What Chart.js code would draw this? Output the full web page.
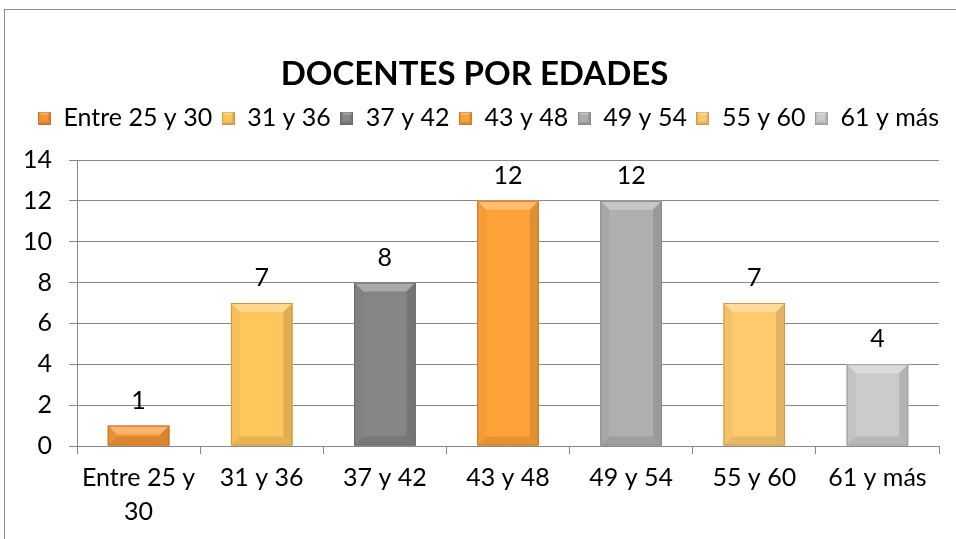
<!DOCTYPE html>
<html>
<head>
<meta charset="utf-8">
<script src="https://cdn.jsdelivr.net/npm/chart.js@4.4.1/dist/chart.umd.min.js"></script>
<style>
    html, body { margin: 0; padding: 0; background: #fff; overflow: hidden; }
    #wrap { position: relative; width: 956px; height: 539px; }
    #frame { position: absolute; left: 4px; top: 9px; width: 1200px; height: 1200px; border: 1px solid #8c8c8c; pointer-events: none; }
</style>
</head>
<body>
<div id="wrap">
    <canvas id="edadesChart" width="956" height="539"></canvas>
    <div id="frame"></div>
</div>
<script>
// Chart data
const categories = ['Entre 25 y 30', '31 y 36', '37 y 42', '43 y 48', '49 y 54', '55 y 60', '61 y más'];
const tickLabels = [['Entre 25 y', '30'], '31 y 36', '37 y 42', '43 y 48', '49 y 54', '55 y 60', '61 y más'];
const docentes = [1, 7, 8, 12, 12, 7, 4];
const barColors = ['#f59536', '#ffc65c', '#858585', '#ffa238', '#afafaf', '#ffca6e', '#cbcbcb'];
const yMin = 0;
const yMax = 14;
const yStep = 2;

const FONT = 'Lato, "Open Sans", sans-serif';

// lighten (amt > 0) or darken (amt < 0) a hex colour
function shade(hex, amt) {
    const n = parseInt(hex.slice(1), 16);
    const f = c => Math.round(amt >= 0 ? c + (255 - c) * amt : c * (1 + amt));
    return `rgb(${f(n >> 16)}, ${f((n >> 8) & 255)}, ${f(n & 255)})`;
}

function poly(ctx, pts, color) {
    ctx.beginPath();
    ctx.moveTo(pts[0][0], pts[0][1]);
    pts.slice(1).forEach(p => ctx.lineTo(p[0], p[1]));
    ctx.closePath();
    ctx.fillStyle = color;
    ctx.fill();
}

function drawBevel(ctx, x0, y0, x1, y1, b, c) {
    poly(ctx, [[x0, y0], [x1, y0], [x1 - b, y0 + b], [x0 + b, y0 + b]], shade(c, 0.3));
    poly(ctx, [[x0, y1], [x1, y1], [x1 - b, y1 - b], [x0 + b, y1 - b]], shade(c, -0.1));
    poly(ctx, [[x0, y0], [x0 + b, y0 + b], [x0 + b, y1 - b], [x0, y1]], shade(c, -0.04));
    poly(ctx, [[x1, y0], [x1 - b, y0 + b], [x1 - b, y1 - b], [x1, y1]], shade(c, -0.12));
    ctx.strokeStyle = shade(c, -0.22);
    ctx.lineWidth = 1;
    ctx.strokeRect(x0 + 0.5, y0 + 0.5, x1 - x0 - 1, y1 - y0 - 1);
}

// small bevelled squares for the legend
const swatches = barColors.map(c => {
    const cv = document.createElement('canvas');
    cv.width = 13;
    cv.height = 13;
    const g = cv.getContext('2d');
    g.fillStyle = c;
    g.fillRect(0, 0, 13, 13);
    drawBevel(g, 0, 0, 13, 13, 3, c);
    return cv;
});

// bevel effect on bars + value labels
const bevelBars = {
    id: 'bevelBars',
    afterDatasetsDraw(chart) {
        const ctx = chart.ctx;
        ctx.save();
        chart.getDatasetMeta(0).data.forEach((bar, i) => {
            const { x, y, base, width } = bar.getProps(['x', 'y', 'base', 'width'], true);
            const x0 = x - width / 2, x1 = x + width / 2;
            const b = Math.min(9, (base - y) / 2, width / 2);
            drawBevel(ctx, x0, y, x1, base, b, barColors[i]);

            ctx.fillStyle = '#000';
            ctx.font = '25px ' + FONT;
            ctx.textAlign = 'center';
            ctx.textBaseline = 'alphabetic';
            ctx.fillText(String(docentes[i]), x, y - 17);
        });
        ctx.restore();
    }
};

// extra space between legend and plot area, and nudge title/legend right
const legendSpacing = {
    id: 'legendSpacing',
    beforeLayout(chart) {
        const legend = chart.legend;
        if (!legend || legend._patched) return;
        const fit = legend.fit;
        legend.fit = function () {
            fit.call(this);
            this.height += 19.5;
        };
        legend._patched = true;
    },
    afterLayout(chart) {
        chart.legend.left += 19;
        chart.legend.right += 19;
        chart.titleBlock.left += 5;
        chart.titleBlock.right += 5;
    }
};

new Chart(document.getElementById('edadesChart'), {
    type: 'bar',
    data: {
        labels: categories,
        datasets: [{
            label: 'Docentes',
            data: docentes,
            backgroundColor: barColors,
            borderWidth: 0,
            categoryPercentage: 1.0,
            barPercentage: 0.5
        }]
    },
    options: {
        responsive: false,
        animation: false,
        layout: { padding: { left: 0, right: 17, top: 0, bottom: 0 } },
        plugins: {
            title: {
                display: true,
                text: 'DOCENTES POR EDADES',
                color: '#000',
                font: { family: FONT, size: 33, weight: 'bold' },
                padding: { top: 55, bottom: 1.4 }
            },
            legend: {
                display: true,
                position: 'top',
                labels: {
                    color: '#000',
                    font: { family: FONT, size: 25 },
                    usePointStyle: true,
                    boxWidth: 13,
                    boxHeight: 13,
                    padding: 9.5,
                    generateLabels: () => categories.map((text, i) => ({
                        text,
                        fillStyle: barColors[i],
                        strokeStyle: barColors[i],
                        lineWidth: 0,
                        pointStyle: swatches[i],
                        hidden: false,
                        index: i,
                        datasetIndex: 0
                    }))
                },
                onClick: null
            },
            tooltip: { enabled: false }
        },
        scales: {
            x: {
                grid: { offset: true, drawOnChartArea: false, drawTicks: true, tickLength: 8, color: '#888888' },
                border: { color: '#888888' },
                ticks: {
                    color: '#000',
                    padding: 7,
                    maxRotation: 0,
                    autoSkip: false,
                    font: { family: FONT, size: 25, lineHeight: 1.35 },
                    callback: (value, index) => tickLabels[index]
                },
                afterFit(scale) { scale.height = 93; }
            },
            y: {
                min: yMin,
                max: yMax,
                grid: { color: '#888888', tickLength: 8 },
                border: { color: '#888888' },
                ticks: {
                    stepSize: yStep,
                    color: '#000',
                    padding: 17,
                    font: { family: FONT, size: 25 }
                },
                afterFit(scale) { scale.width = 77; }
            }
        }
    },
    plugins: [bevelBars, legendSpacing]
});
</script>
</body>
</html>
